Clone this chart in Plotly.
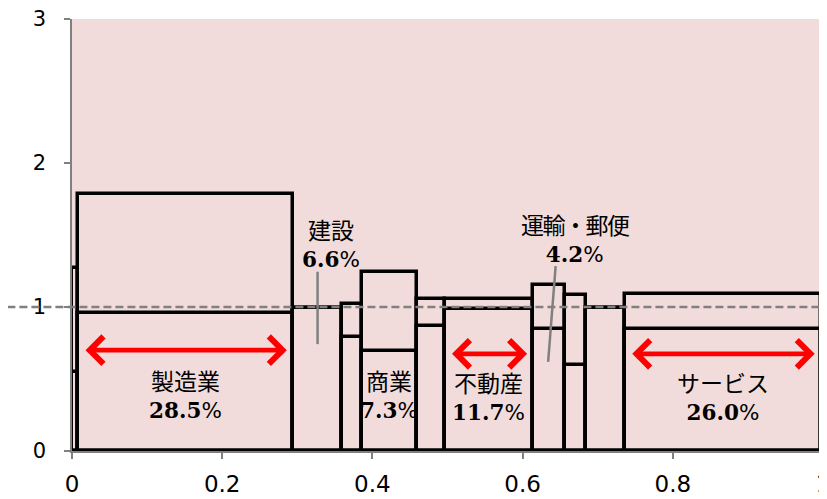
import plotly.graph_objects as go

# ---- data ----
sector_keys = ["s01", "製造業", "建設", "s04", "商業", "s06", "不動産", "運輸・郵便", "s09", "s10", "サービス"]
shares = [0.008, 0.286, 0.066, 0.026, 0.073, 0.037, 0.118, 0.042, 0.029, 0.051, 0.261]
outer_vals = [1.27, 1.785, 0.995, 1.02, 1.24, 1.055, 1.055, 1.155, 1.083, 0.995, 1.09]
inner_vals = [0.55, 0.96, 0.99, 0.79, 0.695, 0.87, 0.985, 0.845, 0.597, 0.99, 0.845]

label_names = ["製造業", "建設", "商業", "不動産", "運輸・郵便", "サービス"]
label_pcts = ["28.5", "6.6", "7.3", "11.7", "4.2", "26.0"]

x_ticks = [0, 0.2, 0.4, 0.6, 0.8, 1]
y_ticks = [0, 1, 2, 3]
ref_level = 1.0
y_max = 3

# ---- derived geometry ----
lefts = []
acc = 0.0
for w in shares:
    lefts.append(acc)
    acc += w
centers = [l + w / 2 for l, w in zip(lefts, shares)]

BLACK = "#000000"
GRAY = "#808080"
RED = "#FF0000"
PINK = "#F2DCDB"
JP = "Noto Sans CJK JP"
SERIF = "DejaVu Serif"
SANS = "DejaVu Sans"

fig = go.Figure()
for vals in (outer_vals, inner_vals):
    fig.add_trace(go.Bar(
        x=centers, y=vals, width=shares, base=0,
        marker=dict(color="rgba(0,0,0,0)", line=dict(color=BLACK, width=3.5)),
        cliponaxis=False, hoverinfo="skip", showlegend=False,
    ))

shapes = []
# dashed reference line
shapes.append(dict(type="line", xref="paper", yref="paper",
                   x0=-0.086, x1=1.02, y0=ref_level / y_max, y1=ref_level / y_max,
                   line=dict(color=GRAY, width=2.5, dash="8px,4px"), layer="above"))
# leader lines
idx_c = sector_keys.index("建設")
shapes.append(dict(type="line", xref="x", yref="y",
                   x0=centers[idx_c], x1=centers[idx_c], y0=0.742, y1=1.245,
                   line=dict(color=GRAY, width=2.5), layer="above"))
idx_t = sector_keys.index("運輸・郵便")
shapes.append(dict(type="line", xref="x", yref="y",
                   x0=centers[idx_t] - 0.001, x1=centers[idx_t] + 0.009, y0=0.619, y1=1.284,
                   line=dict(color=GRAY, width=2.5), layer="above"))

annotations = []
label_pos = {
    "製造業": (None, 0.405),
    "建設": (0.3444, 1.448),
    "商業": (None, 0.405),
    "不動産": (None, 0.392),
    "運輸・郵便": (0.6705, 1.486),
    "サービス": (None, 0.392),
}
for name, pct in zip(label_names, label_pcts):
    i = sector_keys.index(name)
    lx, ly = label_pos[name]
    if lx is None:
        lx = centers[i]
    jp_style = f"font-family:{JP};font-size:23px"
    if name == "運輸・郵便":
        jp_style += ";letter-spacing:-1.5px"
    annotations.append(dict(
        x=lx, y=ly, xref="x", yref="y", showarrow=False,
        xanchor="center", yanchor="middle",
        text=(f'<span style="{jp_style}">{name}</span><br>'
              f'<b><span style="font-family:{SERIF}">{pct}</span></b>'
              f'<span style="font-family:{SANS}">%</span>'),
        font=dict(size=21.5, color="#000000", family=SANS),
    ))

# red double arrows
arrow_sectors = ["製造業", "不動産", "サービス"]
arrow_y = [0.70, 0.675, 0.675]
inset = 0.008
for name, ya in zip(arrow_sectors, arrow_y):
    i = sector_keys.index(name)
    annotations.append(dict(
        x=lefts[i] + shares[i] - inset, y=ya, ax=lefts[i] + inset, ay=ya,
        xref="x", yref="y", axref="x", ayref="y", text="",
        showarrow=True, arrowside="end+start", arrowhead=4, startarrowhead=4,
        arrowsize=1.1, startarrowsize=1.1, arrowwidth=4.8, arrowcolor=RED,
        standoff=0, startstandoff=0,
    ))

# the page body adds an 8px offset; margins compensate for it
fig.update_layout(
    width=827, height=499,
    margin=dict(l=64, r=12, t=11, b=56, autoexpand=False),
    paper_bgcolor="white", plot_bgcolor=PINK,
    barmode="overlay", bargap=0,
    showlegend=False,
    shapes=shapes, annotations=annotations,
    xaxis=dict(range=[0, 1], tickvals=x_ticks, showgrid=False, zeroline=False,
               showline=True, linecolor=GRAY, linewidth=1.5,
               ticks="outside", ticklen=6, tickcolor=GRAY, tickwidth=1.5,
               tickfont=dict(family=SANS, size=23, color="#000000"),
               ticklabelstandoff=6, ticklabeloverflow="allow", automargin=False),
    yaxis=dict(range=[0, y_max], tickvals=y_ticks, showgrid=False, zeroline=False,
               showline=True, linecolor=GRAY, linewidth=1.5,
               ticks="outside", ticklen=6, tickcolor=GRAY, tickwidth=1.5,
               tickfont=dict(family=SANS, size=21, color="#000000"),
               ticklabelstandoff=14, ticklabeloverflow="allow", automargin=False),
)

fig.write_html("out.html")
